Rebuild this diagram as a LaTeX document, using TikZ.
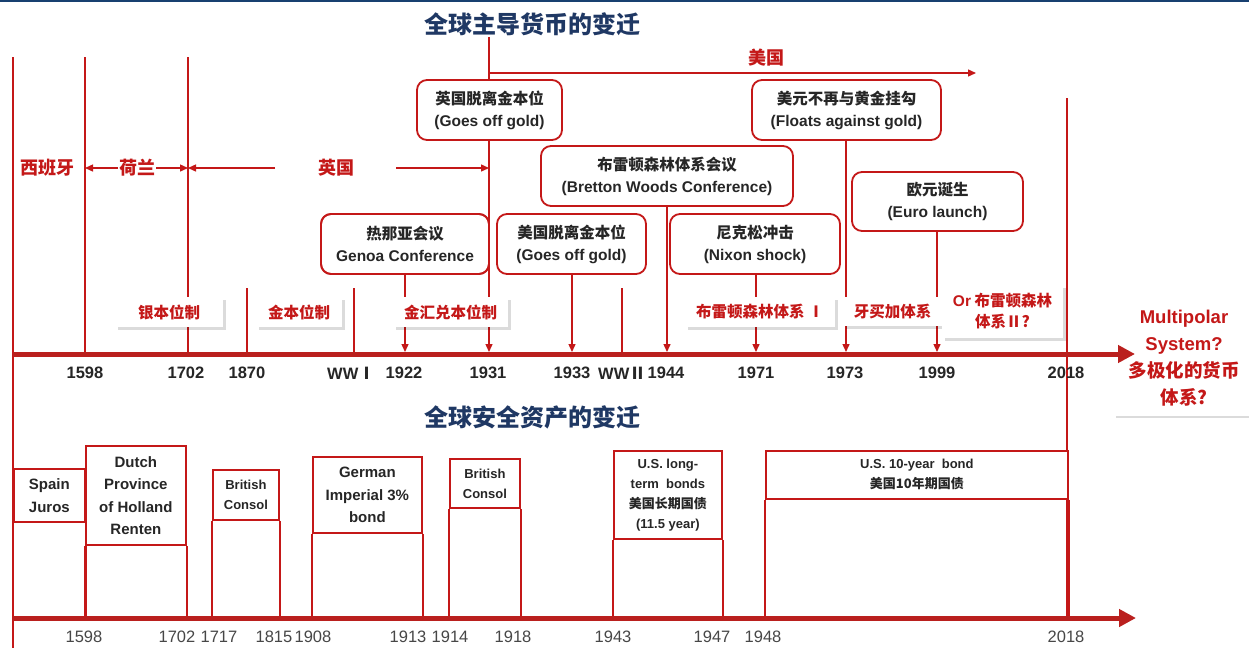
\documentclass[tikz,border=0pt]{standalone}
\usepackage{fontspec}
\setmainfont{Liberation Sans}
\newfontfamily\cjk{Noto Sans CJK SC}
\usetikzlibrary{arrows.meta,shadows}
\definecolor{dred}{RGB}{196,24,24}
\definecolor{axred}{RGB}{186,32,30}
\definecolor{navy}{RGB}{31,56,100}
\definecolor{topbar}{RGB}{24,64,112}
\definecolor{txt}{RGB}{38,38,38}
\newcommand\zh[1]{{\cjk #1}}
\newcommand\yrtop[3]{\node[yr] (#1) at (#2,373) {#3};}
\newcommand\yrbot[3]{\node[byr] (#1) at (#2,637) {#3};}
\begin{document}
\begin{tikzpicture}[x=1pt,y=-1pt,
  axis/.style={draw=axred, line width=5pt, -{Triangle[length=17pt,width=17pt]}},
  era/.style={draw=dred, line width=2pt},
  ev/.style={draw=dred, line width=1.4pt, -{Triangle[length=8pt,width=7pt]}},
  evplain/.style={draw=dred, line width=1.4pt},
  evbox/.style={draw=dred, line width=1.8pt, rounded corners=10pt, fill=white, align=center,
    text=txt, inner sep=0pt, minimum height=60pt, font=\bfseries\fontsize{15.5}{22}\selectfont},
  tag/.style={fill=white, inner sep=0pt, minimum height=30pt, align=center, text=dred,
    font=\cjk\bfseries\fontsize{15.5}{21}\selectfont,
    drop shadow={shadow xshift=2.5pt, shadow yshift=-2.5pt, opacity=0.14, fill=black}},
  eralbl/.style={text=dred, inner sep=1pt, font=\cjk\bfseries\fontsize{18}{20}\selectfont},
  ttl/.style={text=navy, inner sep=1pt, font=\cjk\bfseries\fontsize{24}{26}\selectfont},
  yr/.style={text=txt, inner sep=0pt, font=\bfseries\fontsize{16.5}{18}\selectfont},
  byr/.style={text=black!72, inner sep=0pt, font=\fontsize{16.5}{18}\selectfont},
  blbl/.style={draw=dred, line width=1.8pt, fill=white, align=center, text=txt, inner sep=0pt,
    anchor=north west, font=\bfseries\fontsize{15}{22.5}\selectfont},
  blbls/.style={blbl, font=\bfseries\fontsize{13}{20}\selectfont},
  bcol/.style={draw=dred, line width=1.8pt}
]
\useasboundingbox (0,0) rectangle (1249,648);
\fill[white] (0,0) rectangle (1249,648);
\fill[topbar] (0,0) rectangle (1249,2);

% ---------- titles ----------
\node[ttl] (ttl1) at (532,24) {全球主导货币的变迁};
\node[ttl] (ttl2) at (532,417) {全球安全资产的变迁};

% ---------- coordinates ----------
\coordinate (ax1s) at (13,354);
\coordinate (ax1e) at (1135,354);
\coordinate (ax2s) at (13,618);
\coordinate (ax2e) at (1136,618);
\coordinate (e13t) at (13,57);   \coordinate (e13b) at (13,648);
\coordinate (e85t) at (85,57);   \coordinate (e85b) at (85,354);
\coordinate (e188t) at (188,57); \coordinate (e188b) at (188,354);
\coordinate (e2018t) at (1067,98); \coordinate (e2018b) at (1067,618);
\coordinate (l1870t) at (247,288); \coordinate (l1870b) at (247,354);
\coordinate (lww1t) at (354,288);  \coordinate (lww1b) at (354,354);
\coordinate (lww2t) at (622,288);  \coordinate (lww2b) at (622,354);
\coordinate (usS) at (489,73); \coordinate (usE) at (976,73);

% ---------- era separators ----------
\draw[era] (e13t) -- (e13b);
\draw[era] (e85t) -- (e85b);
\draw[era] (e188t) -- (e188b);
\draw[era] (e2018t) -- (e2018b);
\draw[evplain] (l1870t) -- (l1870b);
\draw[evplain] (lww1t) -- (lww1b);
\draw[evplain] (lww2t) -- (lww2b);

% ---------- era labels ----------
\node[eralbl] (spain) at (47,168) {西班牙};
\node[eralbl] (holl) at (137,168) {荷兰};
\node[eralbl] (brit) at (336,168) {英国};
\node[eralbl] (usa) at (766,58) {美国};
\draw[ev] (holl.west) -- (e85t |- holl.west);
\draw[ev] (holl.east) -- (e188t |- holl.east);
\coordinate (bl) at (275,168); \coordinate (br) at (396,168);
\draw[ev] (bl) -- (e188t |- bl);
\draw[ev] (br) -- (489,168);
\draw[ev] (usS) -- (usE);

% ---------- event boxes ----------
\node[evbox, minimum width=145pt] (goff) at (489.5,110) {\zh{英国脱离金本位}\\(Goes off gold)};
\node[evbox, minimum width=189pt] (float) at (846.5,110) {\zh{美元不再与黄金挂勾}\\(Floats against gold)};
\node[evbox, minimum width=252pt] (bw) at (667,176) {\zh{布雷顿森林体系会议}\\(Bretton Woods Conference)};
\node[evbox, minimum width=171pt, minimum height=59pt] (euro) at (937.5,201.5) {\zh{欧元诞生}\\(Euro launch)};
\node[evbox, minimum width=168pt] (genoa) at (405,244) {\zh{热那亚会议}\\Genoa Conference};
\node[evbox, minimum width=149pt] (usoff) at (571.5,244) {\zh{美国脱离金本位}\\(Goes off gold)};
\node[evbox, minimum width=170pt] (nixon) at (755,244) {\zh{尼克松冲击}\\(Nixon shock)};

\coordinate (t1922) at (405,352);
\coordinate (t1931) at (489,352);
\coordinate (t1933) at (572,352);
\coordinate (t1944) at (667,352);
\coordinate (t1971) at (756,352);
\coordinate (t1973) at (846,352);
\coordinate (t1999) at (937,352);

\draw[evplain] (ttl1.south -| t1931) -- (goff.north -| t1931);
\draw[ev] (goff.south -| t1931) -- (t1931);
\draw[ev] (genoa.south) -- (t1922);
\draw[ev] (usoff.south -| t1933) -- (t1933);
\draw[ev] (bw.south) -- (t1944);
\draw[ev] (nixon.south -| t1971) -- (t1971);
\draw[ev] (float.south -| t1973) -- (t1973);
\draw[ev] (euro.south -| t1999) -- (t1999);
\node[evbox, minimum width=168pt, fill=none] (genoa2) at (405,244) {};

% ---------- system tags ----------
\node[tag, minimum width=108pt] (silver) at (169,312) {银本位制};
\node[tag, minimum width=86pt] (gold) at (299,312) {金本位制};
\node[tag, minimum width=115pt] (gex) at (450.5,312) {金汇兑本位制};
\node[tag, minimum width=150pt] (bw1) at (760,312) {布雷顿森林体系 Ⅰ};
\node[tag, minimum width=99pt, minimum height=29pt] (jam) at (892.5,311.5) {牙买加体系};
\node[tag, minimum width=121pt, minimum height=53pt] (bw2) at (1002.5,311.5) {{\fontspec{Liberation Sans}\bfseries Or} 布雷顿森林\\体系Ⅱ?};
\node[tag, minimum width=142pt, minimum height=115pt, font=\bfseries\fontsize{18.5}{27}\selectfont] (multi) at (1184,358)
  {Multipolar\\System?\\\zh{多极化的货币}\\\zh{体系?}};

% ---------- axes ----------
\draw[axis] (ax1s) -- (ax1e);

% ---------- top year labels ----------
\yrtop{y1598}{85}{1598}
\yrtop{y1702}{186}{1702}
\yrtop{y1870}{247}{1870}
\yrtop{yww1}{351}{WW\zh{Ⅰ}}
\yrtop{y1922}{404}{1922}
\yrtop{y1931}{488}{1931}
\yrtop{y1933}{572}{1933}
\yrtop{yww2}{622}{WW\zh{Ⅱ}}
\yrtop{y1944}{666}{1944}
\yrtop{y1971}{756}{1971}
\yrtop{y1973}{845}{1973}
\yrtop{y1999}{937}{1999}
\yrtop{y2018}{1066}{2018}

% ---------- safe assets ----------
\node[blbl, minimum width=71pt, minimum height=53pt] (spainL) at (13,468) {Spain\\Juros};
\node[blbl, minimum width=100pt, minimum height=99pt] (dutchL) at (85,445) {Dutch\\Province\\of Holland\\Renten};
\node[blbls, minimum width=66pt, minimum height=50pt] (cons1L) at (212,469) {British\\Consol};
\node[blbl, minimum width=109pt, minimum height=76pt] (germL) at (312,456) {German\\Imperial 3\%\\bond};
\node[blbls, minimum width=70pt, minimum height=49pt] (cons2L) at (449,458) {British\\Consol};
\node[blbls, minimum width=108pt, minimum height=88pt] (uslL) at (613,450) {U.S. long-\\term\ \ bonds\\\zh{美国长期国债}\\(11.5 year)};
\node[blbls, minimum width=302pt, minimum height=48pt] (us10L) at (765,450) {U.S. 10-year\ \ bond\\\zh{美国10年期国债}};

\foreach \b in {spainL,dutchL,cons1L,germL,cons2L,uslL,us10L}{
  \draw[bcol] (\b.south west) -- (\b.south west |- ax2s);
  \draw[bcol] (\b.south east) -- (\b.south east |- ax2s);
}
\draw[axis] (ax2s) -- (ax2e);

% ---------- bottom year labels ----------
\yrbot{b1598}{84}{1598}
\yrbot{b1702}{177}{1702}
\yrbot{b1717}{219}{1717}
\yrbot{b1815}{274}{1815}
\yrbot{b1908}{313}{1908}
\yrbot{b1913}{408}{1913}
\yrbot{b1914}{450}{1914}
\yrbot{b1918}{513}{1918}
\yrbot{b1943}{613}{1943}
\yrbot{b1947}{712}{1947}
\yrbot{b1948}{763}{1948}
\yrbot{b2018}{1066}{2018}
\end{tikzpicture}
\end{document}
